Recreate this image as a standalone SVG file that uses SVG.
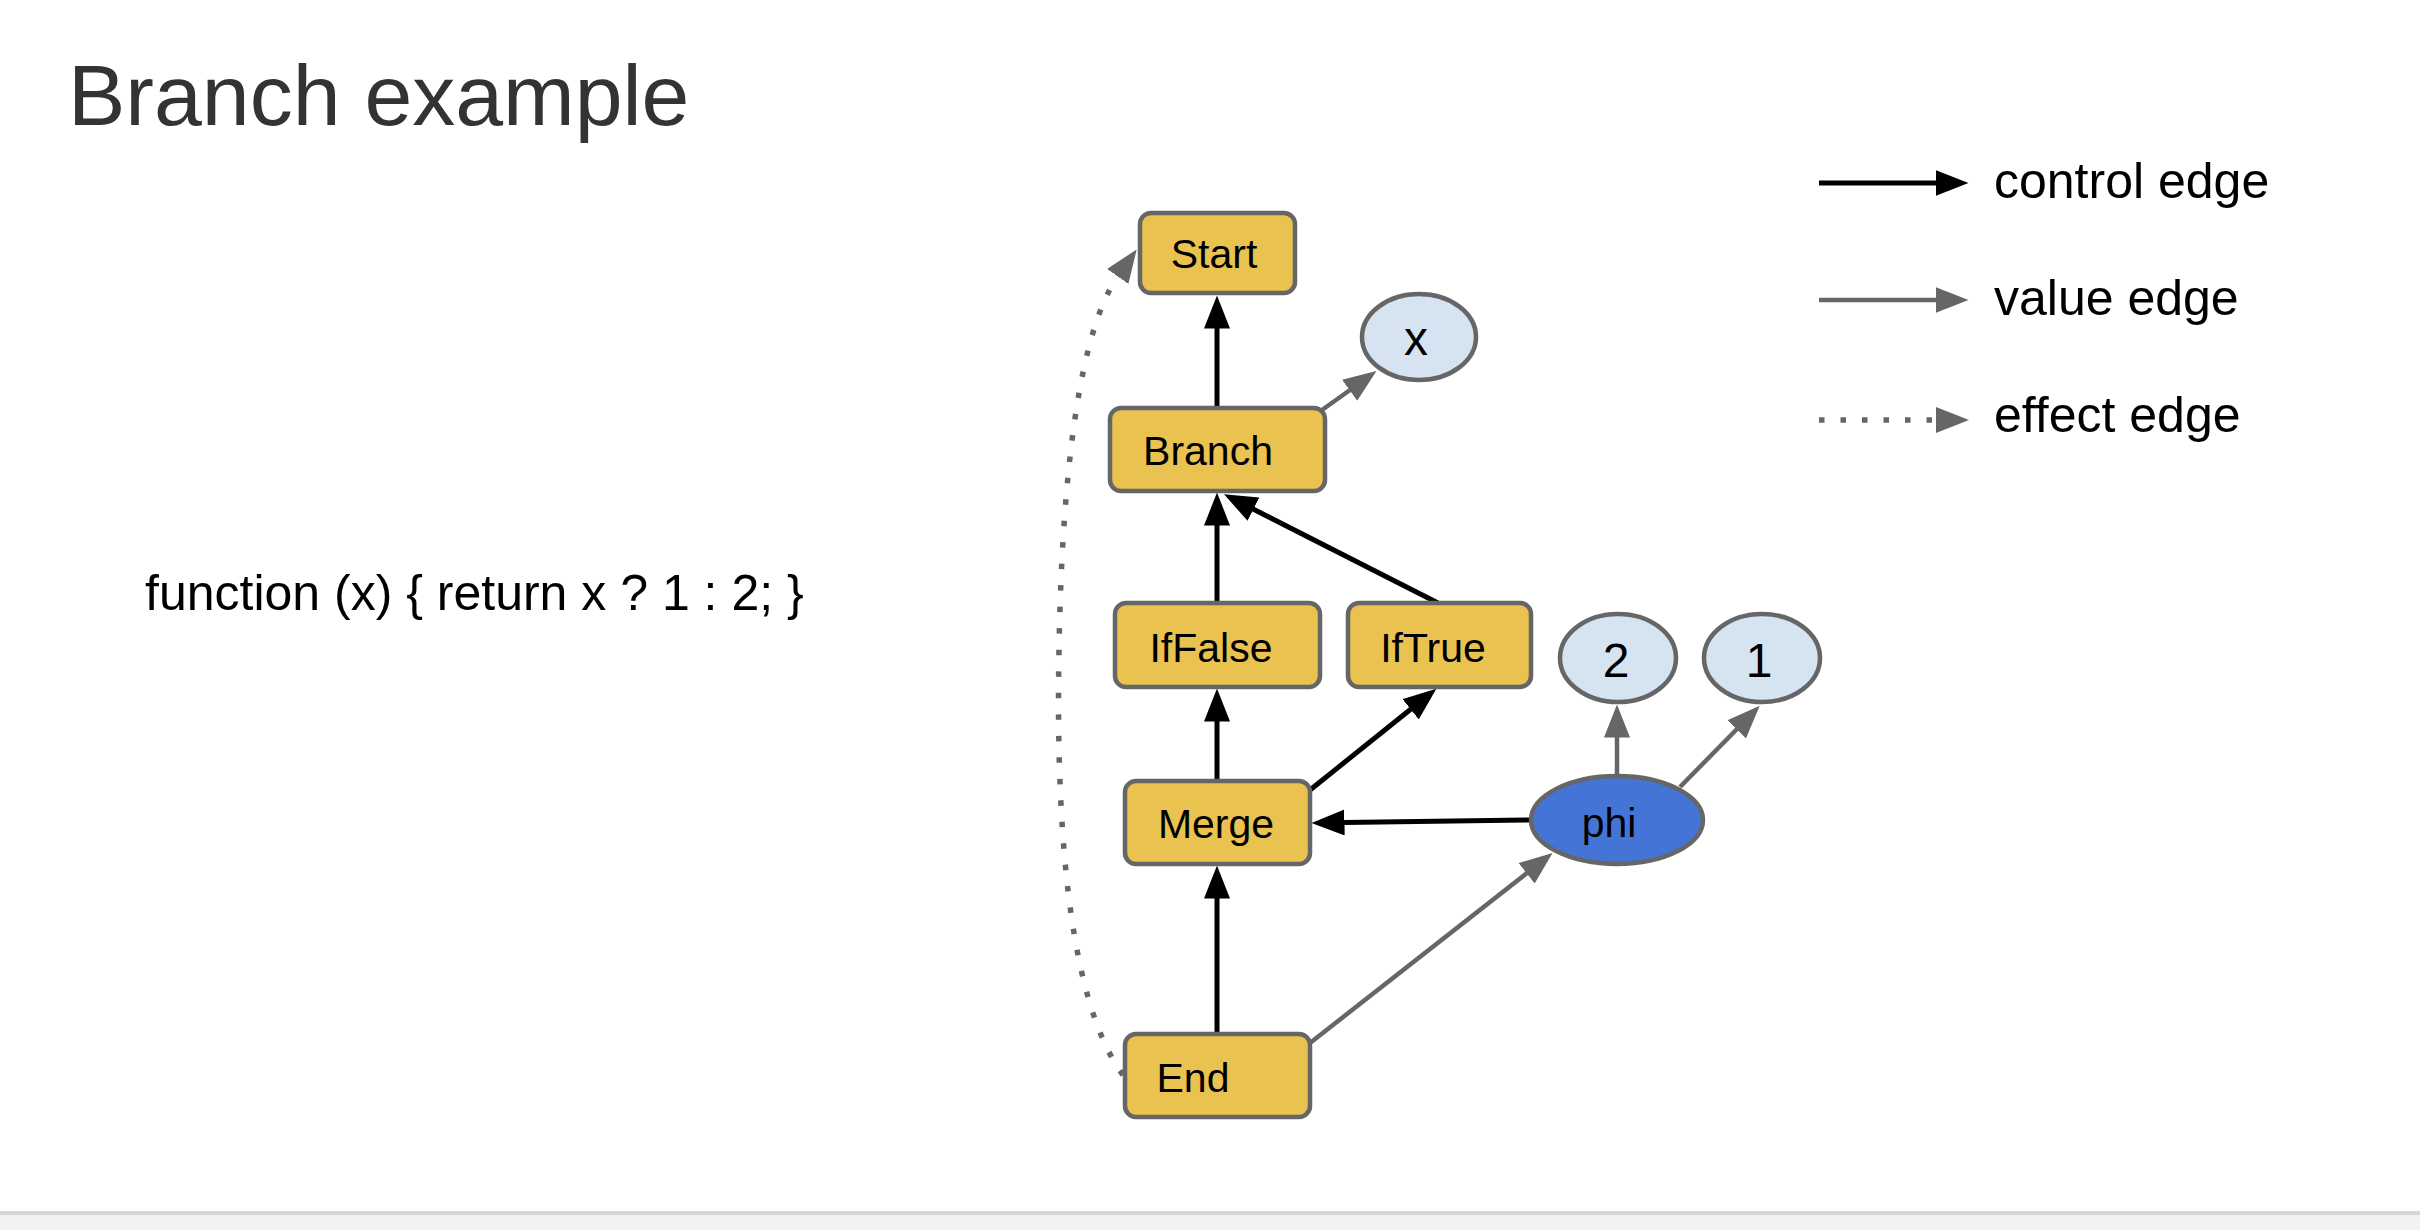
<svg xmlns="http://www.w3.org/2000/svg" width="2420" height="1230" viewBox="0 0 2420 1230">
  <style>
    text { font-family: "Liberation Sans", Arial, sans-serif; }
    .title { font-size: 86px; fill: #333333; }
    .code { font-size: 50px; fill: #000000; }
    .legend { font-size: 50px; fill: #000000; }
    .lbl { font-size: 41px; fill: #000000; text-anchor: middle; }
    .num { font-size: 48px; fill: #000000; text-anchor: middle; }
    .op { fill: #E9C24F; stroke: #666666; stroke-width: 4.5; }
    .val { fill: #D6E4F2; stroke: #666666; stroke-width: 4.5; }
    .phi { fill: #4475D6; stroke: #666666; stroke-width: 4.5; }
    .ctrl { fill: none; stroke: #000000; stroke-width: 5; }
    .value { fill: none; stroke: #666666; stroke-width: 4.5; }
    .effect { fill: none; stroke: #666666; stroke-width: 5.5; stroke-dasharray: 5.5 16; }
  </style>
  <defs>
    <marker id="arrow-ctrl" markerUnits="userSpaceOnUse" viewBox="0 0 33 26" markerWidth="33" markerHeight="26" refX="0.5" refY="13" orient="auto">
      <path d="M0,0 L33,13 L0,26 z" fill="#000000"/>
    </marker>
    <marker id="arrow-value" markerUnits="userSpaceOnUse" viewBox="0 0 33 26" markerWidth="33" markerHeight="26" refX="0.5" refY="13" orient="auto">
      <path d="M0,0 L33,13 L0,26 z" fill="#666666"/>
    </marker>
  </defs>

  <rect x="0" y="0" width="2420" height="1230" fill="#ffffff"/>

  <!-- footer strip -->
  <rect x="0" y="1211" width="2420" height="4" fill="#d6d6d6"/>
  <rect x="0" y="1215" width="2420" height="15" fill="#f2f2f2"/>

  <text class="title" x="68" y="125">Branch example</text>
  <text class="code" x="145" y="610">function (x) { return x ? 1 : 2; }</text>

  <!-- legend -->
  <g id="legend">
    <line class="ctrl" x1="1819" y1="183" x2="1936" y2="183" marker-end="url(#arrow-ctrl)"/>
    <text class="legend" x="1994" y="198">control edge</text>
    <line class="value" x1="1819" y1="300" x2="1936" y2="300" marker-end="url(#arrow-value)"/>
    <text class="legend" x="1994" y="315">value edge</text>
    <line class="effect" x1="1819" y1="420" x2="1936" y2="420"/>
    <path d="M1936,407 L1969,420 L1936,433 z" fill="#666666"/>
    <text class="legend" x="1994" y="432">effect edge</text>
  </g>

  <!-- edges -->
  <g id="edges">
    <!-- control -->
    <line class="ctrl" x1="1217" y1="408" x2="1217" y2="328" marker-end="url(#arrow-ctrl)"/>
    <line class="ctrl" x1="1217" y1="603" x2="1217" y2="525" marker-end="url(#arrow-ctrl)"/>
    <line class="ctrl" x1="1438" y1="603" x2="1253" y2="509" marker-end="url(#arrow-ctrl)"/>
    <line class="ctrl" x1="1217" y1="781" x2="1217" y2="721" marker-end="url(#arrow-ctrl)"/>
    <line class="ctrl" x1="1310" y1="790" x2="1411" y2="709" marker-end="url(#arrow-ctrl)"/>
    <line class="ctrl" x1="1531" y1="820" x2="1344" y2="822.5" marker-end="url(#arrow-ctrl)"/>
    <line class="ctrl" x1="1217" y1="1034" x2="1217" y2="898" marker-end="url(#arrow-ctrl)"/>
    <!-- value -->
    <line class="value" x1="1322" y1="410" x2="1350" y2="390" marker-end="url(#arrow-value)"/>
    <line class="value" x1="1310" y1="1043" x2="1527" y2="873" marker-end="url(#arrow-value)"/>
    <line class="value" x1="1617" y1="776" x2="1617" y2="737" marker-end="url(#arrow-value)"/>
    <line class="value" x1="1680" y1="787" x2="1737" y2="729" marker-end="url(#arrow-value)"/>
    <!-- effect -->
    <path class="effect" d="M1123,1075 C1075,1010 1055,860 1059,650 C1062,470 1080,330 1118,276" marker-end="url(#arrow-value)"/>
  </g>

  <!-- nodes -->
  <g id="node-start">
    <rect class="op" x="1140" y="213" width="155" height="80" rx="11"/>
    <text class="lbl" x="1214" y="268">Start</text>
  </g>
  <g id="node-branch">
    <rect class="op" x="1110" y="408" width="215" height="83" rx="11"/>
    <text class="lbl" x="1208" y="465">Branch</text>
  </g>
  <g id="node-x">
    <ellipse class="val" cx="1419" cy="337" rx="57" ry="43"/>
    <text class="num" x="1416" y="355">x</text>
  </g>
  <g id="node-iffalse">
    <rect class="op" x="1115" y="603" width="205" height="84" rx="11"/>
    <text class="lbl" x="1211" y="662">IfFalse</text>
  </g>
  <g id="node-iftrue">
    <rect class="op" x="1348" y="603" width="183" height="84" rx="11"/>
    <text class="lbl" x="1433" y="662">IfTrue</text>
  </g>
  <g id="node-2">
    <ellipse class="val" cx="1618" cy="658" rx="58" ry="44"/>
    <text class="num" x="1616" y="677">2</text>
  </g>
  <g id="node-1">
    <ellipse class="val" cx="1762" cy="658" rx="58" ry="44"/>
    <text class="num" x="1759" y="677">1</text>
  </g>
  <g id="node-merge">
    <rect class="op" x="1125" y="781" width="185" height="83" rx="11"/>
    <text class="lbl" x="1216" y="838">Merge</text>
  </g>
  <g id="node-phi">
    <ellipse class="phi" cx="1617" cy="820" rx="86" ry="44"/>
    <text class="lbl" x="1609" y="837" fill="#1d2a44">phi</text>
  </g>
  <g id="node-end">
    <rect class="op" x="1125" y="1034" width="185" height="83" rx="11"/>
    <text class="lbl" x="1193" y="1092">End</text>
  </g>
</svg>
